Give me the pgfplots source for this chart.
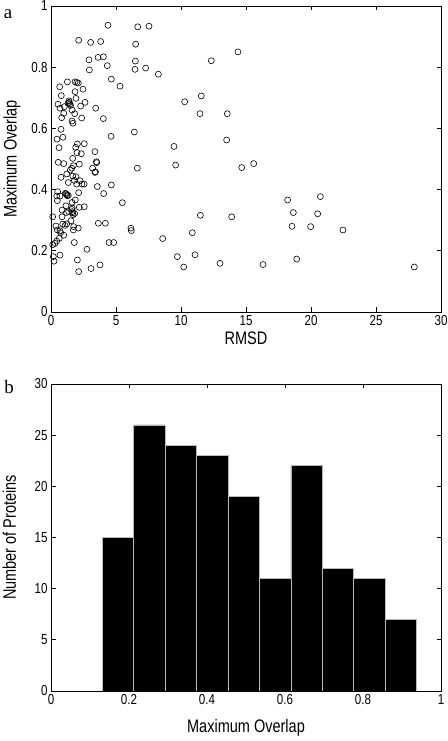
\documentclass[border=0pt]{standalone}
\usepackage{fontspec}
\setmainfont{Liberation Sans}[FakeStretch=0.8]
\newfontfamily\seriffont{Liberation Serif}
\usepackage{pgfplots}
\pgfplotsset{compat=1.18}

\pgfplotsset{
  mystyle/.style={
    scale only axis,
    width=390bp,
    tick align=inside,
    major tick length=4.5bp,
    axis line style={line width=0.8bp},
    every tick/.style={line width=0.7bp, black},
    /pgf/number format/assume math mode=true,
    tick label style={font=\fontsize{14.5}{15}\selectfont},
    label style={font=\fontsize{18.2}{19}\selectfont},
  }
}

\begin{document}
\begin{tikzpicture}[x=1bp,y=1bp]
\useasboundingbox (0,0) rectangle (448,741);

% ---------- panel a ----------
\begin{axis}[mystyle,
  at={(51bp,429bp)}, anchor=south west, height=306bp,
  xmin=0, xmax=30, ymin=0, ymax=1,
  xtick={0,5,10,15,20,25,30},
  ytick={0,0.2,0.4,0.6,0.8,1},
  yticklabels={0,0.2,0.4,0.6,0.8,1},
  xlabel={RMSD}, ylabel={Maximum Overlap},
  xlabel style={at={(axis description cs:0.5,-0.087)}, anchor=center},
  ylabel style={at={(axis description cs:-0.1,0.5)}, anchor=center},
]
\addplot[only marks, mark=o, mark size=3bp, mark options={line width=0.6bp, black}] coordinates {
% bin 10
(4.38,0.937) (6.67,0.932) (7.54,0.934) (2.13,0.888) (3.05,0.881) (3.82,0.884) (6.51,0.875)
% bin 9
(2.92,0.824) (3.62,0.832) (4.03,0.834) (6.49,0.820) (4.33,0.805) (2.95,0.791) (6.46,0.793)
(7.28,0.797) (8.26,0.777) (14.38,0.850) (12.33,0.821)
% bin 8
(4.64,0.761) (5.31,0.738) (1.26,0.752) (1.85,0.752) (2.10,0.748) (1.98,0.750) (0.67,0.736)
(2.46,0.728) (1.85,0.720) (0.79,0.707) (1.92,0.698) (11.56,0.706)
% bin 7
(2.62,0.685) (1.38,0.690) (0.54,0.679) (1.31,0.682) (1.46,0.680) (1.40,0.685) (1.50,0.675)
(1.03,0.671) (0.69,0.666) (2.28,0.673) (3.44,0.666) (1.62,0.660) (0.98,0.649) (1.82,0.648)
(0.82,0.635) (2.36,0.634) (4.03,0.632) (1.62,0.624) (1.69,0.617) (10.28,0.687) (11.46,0.648)
(13.56,0.648)
% bin 6
(0.77,0.597) (6.41,0.588) (4.62,0.574) (0.46,0.565) (0.92,0.571) (9.46,0.541) (2.03,0.549)
(2.56,0.550) (13.51,0.562) (0.62,0.537) (1.90,0.538)
% bin 5
(3.38,0.524) (2.00,0.521) (2.33,0.517) (0.56,0.489) (0.98,0.485) (1.67,0.502) (2.18,0.483)
(3.49,0.491) (3.52,0.488) (9.59,0.480) (6.64,0.470) (3.20,0.470) (3.38,0.456) (3.42,0.458)
(1.49,0.464) (1.72,0.478) (1.60,0.470) (14.67,0.472) (15.59,0.485)
% bin 4
(0.77,0.440) (1.21,0.451) (1.67,0.444) (1.92,0.442) (1.33,0.423) (2.23,0.429) (2.38,0.418)
(2.54,0.418) (1.97,0.418) (3.56,0.410) (4.64,0.415) (0.51,0.393) (4.05,0.387) (0.44,0.379)
(0.69,0.379) (1.10,0.388) (1.21,0.383) (1.33,0.381) (1.15,0.386) (1.25,0.380) (2.13,0.390)
(1.80,0.430) (20.72,0.377)
% bin 3
(0.49,0.364) (1.87,0.366) (5.49,0.357) (1.62,0.358) (2.56,0.344) (1.15,0.347) (2.18,0.342)
(0.85,0.333) (1.64,0.340) (1.64,0.328) (1.67,0.324) (1.36,0.328) (1.82,0.322) (1.18,0.325)
(0.13,0.311) (0.85,0.311) (1.54,0.298) (1.60,0.335) (1.70,0.318) (18.20,0.366) (18.64,0.325)
(20.51,0.321) (11.49,0.316) (13.90,0.311)
% bin 2
(1.21,0.288) (0.90,0.287) (3.64,0.290) (4.18,0.290) (0.38,0.281) (1.08,0.283) (1.74,0.279)
(2.10,0.274) (6.15,0.274) (6.18,0.266) (0.49,0.268) (1.72,0.268) (0.69,0.265) (0.74,0.259)
(0.98,0.251) (0.64,0.241) (8.59,0.240) (0.44,0.232) (4.46,0.227) (4.82,0.227) (1.79,0.227)
(0.13,0.220) (0.31,0.224) (18.54,0.280) (19.97,0.279) (22.46,0.268) (10.87,0.259)
% bin 1
(2.77,0.205) (9.72,0.181) (0.18,0.181) (0.69,0.186) (2.03,0.170) (0.23,0.166) (3.08,0.142)
(3.77,0.154) (2.13,0.132) (11.08,0.187) (10.21,0.147) (13.00,0.159) (16.31,0.155) (18.90,0.173)
(27.95,0.147)
};
\end{axis}

% ---------- panel b ----------
\begin{axis}[mystyle,
  at={(51bp,50bp)}, anchor=south west, height=307bp,
  xmin=0, xmax=1, ymin=0, ymax=30,
  xtick={0,0.2,0.4,0.6,0.8,1},
  xticklabels={0,0.2,0.4,0.6,0.8,1},
  ytick={0,5,10,15,20,25,30},
  xlabel={Maximum Overlap}, ylabel={Number of Proteins},
  xlabel style={at={(axis description cs:0.5,-0.12)}, anchor=center},
  ylabel style={at={(axis description cs:-0.107,0.5)}, anchor=center},
  axis on top,
]
\addplot[ybar interval, fill=black, draw=gray!55, line width=0.8bp] coordinates {
(0.1316,15) (0.2122,26) (0.2928,24) (0.3734,23) (0.4540,19) (0.5346,11)
(0.6152,22) (0.6958,12) (0.7764,11) (0.8570,7) (0.9376,7)
};
\end{axis}

\node[font=\seriffont\fontsize{19}{19}\selectfont, anchor=center] at (8,727) {a};
\node[font=\seriffont\fontsize{19}{19}\selectfont, anchor=center] at (9,354) {b};
\end{tikzpicture}
\end{document}
